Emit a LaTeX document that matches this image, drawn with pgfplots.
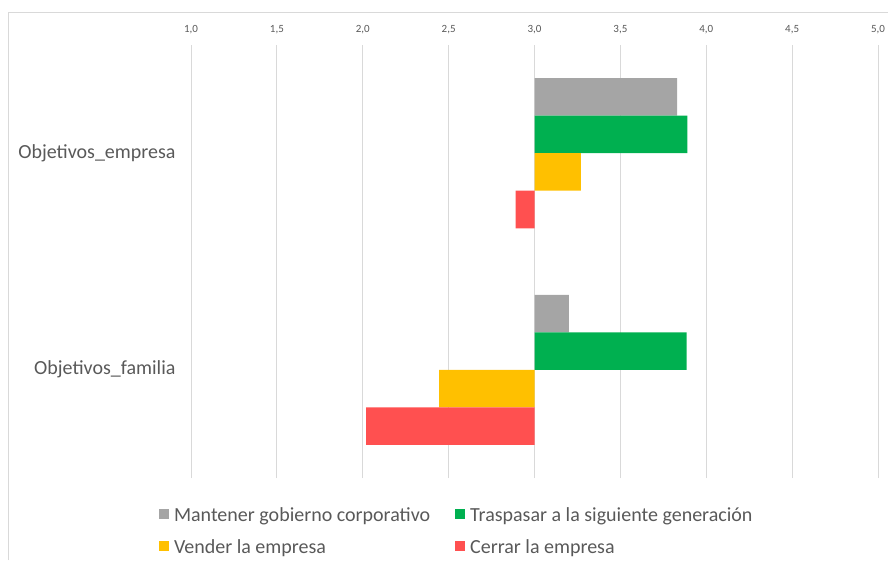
\documentclass[border=0pt]{standalone}
\usepackage{pgfplots}
\pgfplotsset{compat=1.18}
\usepackage{fontspec}
\setmainfont{Carlito}
\definecolor{cgray}{HTML}{A5A5A5}
\definecolor{cgreen}{HTML}{00B050}
\definecolor{cyellow}{HTML}{FFC000}
\definecolor{cred}{HTML}{FF5050}
\definecolor{txt}{HTML}{595959}
\definecolor{gridc}{HTML}{D9D9D9}
\begin{document}
\begin{tikzpicture}[x=1pt,y=1pt]
\useasboundingbox (0,0) rectangle (888,560);
\draw[gridc, line width=0.8pt] (8,548) -- (888,548);
\draw[gridc, line width=0.8pt] (8,0) -- (8,548);
\begin{axis}[
  at={(191pt,82pt)}, anchor=south west,
  scale only axis, width=687pt, height=433pt,
  xbar, bar width=37.5pt,
  x coord trafo/.code={\pgfmathparse{#1-3}},
  x coord inv trafo/.code={\pgfmathparse{#1+3}},
  xmin=1, xmax=5,
  xtick={1,1.5,2,2.5,3,3.5,4,4.5,5},
  xticklabel pos=upper,
  xticklabel shift=8pt,
  ymin=-0.5, ymax=1.5,
  ytick={0,1},
  yticklabels={Objetivos\_familia,Objetivos\_empresa},
  axis line style={draw=none},
  major tick length=0pt,
  xmajorgrids, grid style={gridc, line width=0.8pt},
  /pgf/number format/.cd, use comma, fixed, fixed zerofill, precision=1, assume math mode=true,
  /pgfplots/.cd,
  xticklabel style={font=\fontsize{11}{13}\selectfont, text=txt},
  yticklabel style={font=\fontsize{20}{24}\selectfont, text=txt, xshift=-12pt},
  legend style={at={(0.389,-0.058)}, anchor=north, draw=none, fill=none,
    legend columns=2, font=\fontsize{20}{24}\selectfont, text=txt,
    cells={anchor=west},
    /tikz/every even column/.append style={column sep=20pt},
    nodes={inner xsep=5pt},
    row sep=13pt},
  legend image code/.code={\fill[#1] (0pt,-3.5pt) rectangle (10pt,6.5pt);},
]
\addplot[fill=cgray, draw=none, bar shift=56.25pt] coordinates {(3.83,1) (3.20,0)};
\addlegendentry{Mantener gobierno corporativo}
\addplot[fill=cgreen, draw=none, bar shift=18.75pt] coordinates {(3.89,1) (3.885,0)};
\addlegendentry{Traspasar a la siguiente generación}
\addplot[fill=cyellow, draw=none, bar shift=-18.75pt] coordinates {(3.27,1) (2.445,0)};
\addlegendentry{Vender la empresa}
\addplot[fill=cred, draw=none, bar shift=-56.25pt] coordinates {(2.89,1) (2.02,0)};
\addlegendentry{Cerrar la empresa}
\end{axis}
\end{tikzpicture}
\end{document}
